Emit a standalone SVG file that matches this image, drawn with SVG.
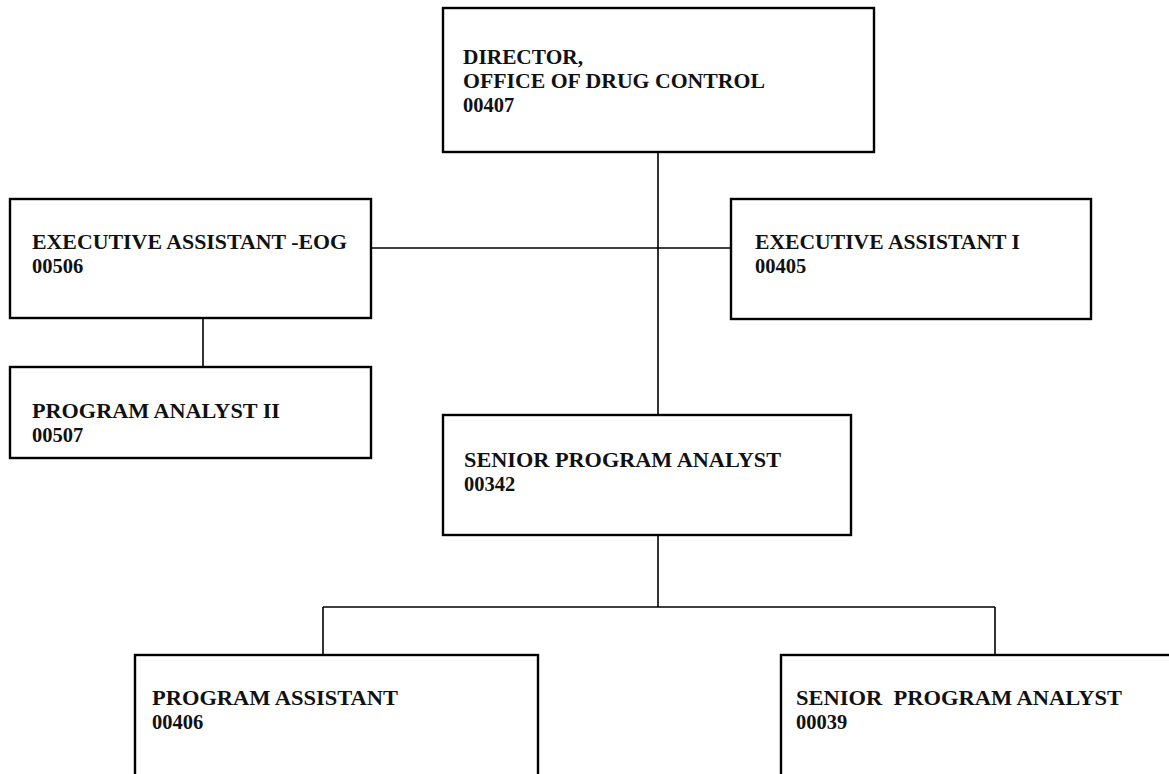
<svg xmlns="http://www.w3.org/2000/svg" width="1169" height="774" viewBox="0 0 1169 774">
<style>
.box{fill:#fff;stroke:#000;stroke-width:2.4}
.conn line{stroke:#000;stroke-width:1.6}
text{font-family:"Liberation Serif","Times New Roman",serif;font-weight:bold;font-size:20.5px;fill:#111;white-space:pre}
</style>
<rect width="1169" height="774" fill="#fff"/>
<g class="conn" id="connectors">
<line x1="658" y1="152" x2="658" y2="415"/>
<line x1="371" y1="248" x2="731" y2="248"/>
<line x1="203" y1="318" x2="203" y2="367"/>
<line x1="658" y1="535" x2="658" y2="607"/>
<line x1="323" y1="607" x2="995" y2="607"/>
<line x1="323" y1="607" x2="323" y2="655"/>
<line x1="995" y1="607" x2="995" y2="655"/>
</g>
<g id="director">
<rect class="box" x="443" y="8" width="431" height="144"/>
<text x="463" y="64" textLength="120" lengthAdjust="spacingAndGlyphs">DIRECTOR,</text>
<text x="463" y="88" textLength="302" lengthAdjust="spacingAndGlyphs">OFFICE OF DRUG CONTROL</text>
<text x="463" y="112">00407</text>
</g>
<g id="exec-eog">
<rect class="box" x="10" y="199" width="361" height="119"/>
<text x="32" y="249" textLength="315" lengthAdjust="spacingAndGlyphs">EXECUTIVE ASSISTANT -EOG</text>
<text x="32" y="273">00506</text>
</g>
<g id="exec-1">
<rect class="box" x="731" y="199" width="360" height="120"/>
<text x="755" y="249" textLength="265" lengthAdjust="spacingAndGlyphs">EXECUTIVE ASSISTANT I</text>
<text x="755" y="273">00405</text>
</g>
<g id="pa2">
<rect class="box" x="10" y="367" width="361" height="91"/>
<text x="32" y="418" textLength="248" lengthAdjust="spacingAndGlyphs">PROGRAM ANALYST II</text>
<text x="32" y="442">00507</text>
</g>
<g id="spa-342">
<rect class="box" x="443" y="415" width="408" height="120"/>
<text x="464" y="467" textLength="317" lengthAdjust="spacingAndGlyphs">SENIOR PROGRAM ANALYST</text>
<text x="464" y="491">00342</text>
</g>
<g id="prog-asst">
<rect class="box" x="135" y="655" width="403" height="140"/>
<text x="152" y="705" textLength="246" lengthAdjust="spacingAndGlyphs">PROGRAM ASSISTANT</text>
<text x="152" y="729">00406</text>
</g>
<g id="spa-039">
<rect class="box" x="781" y="655" width="400" height="140"/>
<text x="796" y="705" textLength="326" lengthAdjust="spacingAndGlyphs">SENIOR  PROGRAM ANALYST</text>
<text x="796" y="729">00039</text>
</g>
</svg>
